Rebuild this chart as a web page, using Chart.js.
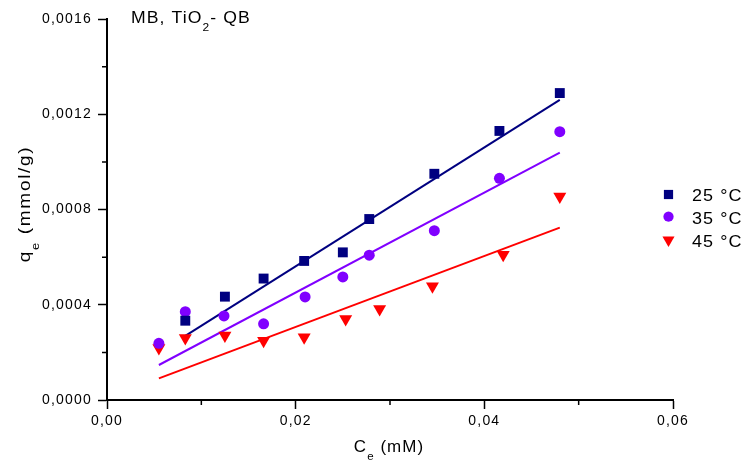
<!DOCTYPE html>
<html>
<head>
<meta charset="utf-8">
<script src="https://cdn.jsdelivr.net/npm/chart.js@4/dist/chart.umd.min.js"></script>
<style>
html, body { margin: 0; padding: 0; background: #fff; }
#wrap { width: 744px; height: 463px; }
</style>
</head>
<body>
<div id="wrap"><canvas id="myChart"></canvas></div>
<script>
// measured points, Ce (mM) vs qe (mmol/g)
const ce25 = [0.0083, 0.0125, 0.0166, 0.0209, 0.0250, 0.0278, 0.0347, 0.0416, 0.0480];
const qe25 = [0.000333, 0.000434, 0.000510, 0.000584, 0.000620, 0.000760, 0.000950, 0.001130, 0.001289];
const ce35 = [0.0055, 0.0083, 0.0124, 0.0166, 0.0210, 0.0250, 0.0278, 0.0347, 0.0416, 0.0480];
const qe35 = [0.000238, 0.000371, 0.000353, 0.000320, 0.000433, 0.000517, 0.000608, 0.000711, 0.000931, 0.001127];
const ce45 = [0.0055, 0.0083, 0.0125, 0.0166, 0.0209, 0.0253, 0.0289, 0.0345, 0.0420, 0.0480];
const qe45 = [0.000218, 0.000260, 0.000271, 0.000249, 0.000263, 0.000340, 0.000382, 0.000478, 0.000610, 0.000855];

// linear fits (end points)
const fit25x = [0.0083, 0.0480], fit25y = [0.000269, 0.001260];
const fit35x = [0.0055, 0.0480], fit35y = [0.000147, 0.001039];
const fit45x = [0.0055, 0.0480], fit45y = [0.000091, 0.000724];

const seriesNames = ["25 °C", "35 °C", "45 °C"];
const xTicks = [0, 0.02, 0.04, 0.06];
const yTicks = [0, 0.0004, 0.0008, 0.0012, 0.0016];
const xMinor = [0.01, 0.03, 0.05];
const yMinor = [0.0002, 0.0006, 0.0010, 0.0014];

const colors = ["#000080", "#8000ff", "#ff0000"];
const styles = [
  { pointStyle: "rect", radius: 7, rotation: 0 },
  { pointStyle: "circle", radius: 5.5, rotation: 0 },
  { pointStyle: "triangle", radius: 7.5, rotation: 180 },
];
const FONT = "'Liberation Sans', Arial, sans-serif";

function pts(xs, ys) {
  return xs.map((x, i) => ({ x: x, y: ys[i] }));
}
function comma(v, d) {
  return v.toFixed(d).replace(".", ",");
}

const scatterSets = [[ce25, qe25], [ce35, qe35], [ce45, qe45]].map((s, i) => ({
  label: seriesNames[i],
  data: pts(s[0], s[1]),
  backgroundColor: colors[i],
  borderColor: colors[i],
  borderWidth: 0,
  pointStyle: styles[i].pointStyle,
  pointRadius: styles[i].radius,
  pointRotation: styles[i].rotation,
  showLine: false,
  order: 0,
}));
const fitSets = [[fit25x, fit25y], [fit35x, fit35y], [fit45x, fit45y]].map((s, i) => ({
  label: "fit " + seriesNames[i],
  data: pts(s[0], s[1]),
  borderColor: colors[i],
  borderWidth: 2,
  pointRadius: 0,
  showLine: true,
  order: 1,
}));

// the original export draws text a little stretched, so: size, spacing, x-stretch
function setFont(ctx, size, sub, spacing) {
  ctx.font = (sub ? size * 0.68 : size) + "px " + FONT;
  ctx.letterSpacing = spacing + "px";
}
function subWidth(ctx, parts, size, spacing) {
  let w = 0;
  parts.forEach((p) => {
    setFont(ctx, size, p.sub, spacing);
    w += ctx.measureText(p.t).width;
  });
  return w;
}
// align: 0 = left, 0.5 = centre
function subText(ctx, parts, x, y, size, spacing, sx, align) {
  const w = subWidth(ctx, parts, size, spacing) * sx;
  ctx.save();
  ctx.translate(x - w * align, y);
  ctx.scale(sx, 1);
  ctx.textBaseline = "alphabetic";
  ctx.textAlign = "left";
  let cx = 0;
  parts.forEach((p) => {
    setFont(ctx, size, p.sub, spacing);
    ctx.fillText(p.t, cx, p.sub ? size * 0.55 : 0);
    cx += ctx.measureText(p.t).width;
  });
  ctx.restore();
}

const extras = {
  id: "extras",
  beforeLayout(chart) {
    chart.ctx.letterSpacing = "1.2px";
  },
  beforeDraw(chart) {
    chart.ctx.letterSpacing = "1.2px";
  },
  afterDraw(chart) {
    const ctx = chart.ctx;
    const xs = chart.scales.x, ys = chart.scales.y;
    const area = chart.chartArea;
    ctx.save();
    // minor ticks
    ctx.strokeStyle = "#000";
    ctx.lineWidth = 1.5;
    ctx.beginPath();
    xMinor.forEach((v) => {
      const px = xs.getPixelForValue(v);
      ctx.moveTo(px, area.bottom);
      ctx.lineTo(px, area.bottom + 5);
    });
    yMinor.forEach((v) => {
      const py = ys.getPixelForValue(v);
      ctx.moveTo(area.left - 5, py);
      ctx.lineTo(area.left, py);
    });
    ctx.stroke();

    ctx.fillStyle = "#000";
    // title
    subText(ctx, [{ t: "MB, TiO" }, { t: "2", sub: true }, { t: "- QB" }], 131, 22.5, 16, 1, 1.1, 0);

    // x title
    subText(ctx, [{ t: "C" }, { t: "e", sub: true }, { t: " (mM)" }], 389, 451.5, 16, 1, 1.06, 0.5);

    // y title
    ctx.save();
    ctx.translate(30, 204);
    ctx.rotate(-Math.PI / 2);
    subText(ctx, [{ t: "q" }, { t: "e", sub: true }, { t: " (mmol/g)" }], 0, 0, 17, 1.5, 1.12, 0.5);
    ctx.restore();

    // legend
    const markY = [194.5, 216.7, 240];
    const textY = [200.7, 224, 246.7];
    seriesNames.forEach((name, i) => {
      ctx.fillStyle = colors[i];
      ctx.strokeStyle = colors[i];
      Chart.helpers.drawPoint(ctx, {
        pointStyle: styles[i].pointStyle,
        radius: styles[i].radius * 0.93,
        rotation: styles[i].rotation,
        borderWidth: 0,
      }, 668.5, markY[i]);
      ctx.fillStyle = "#000";
      subText(ctx, [{ t: name }], 692, textY[i], 17, 1, 1.06, 0);
    });
    ctx.restore();
  },
};

new Chart("myChart", {
  type: "scatter",
  data: { datasets: scatterSets.concat(fitSets) },
  options: {
    responsive: true,
    maintainAspectRatio: false,
    animation: false,
    layout: { padding: { left: 0, right: 71, top: 19, bottom: 0 } },
    plugins: {
      legend: { display: false },
      tooltip: { enabled: false },
    },
    scales: {
      x: {
        type: "linear",
        min: 0,
        max: 0.06,
        afterBuildTicks: (s) => { s.ticks = xTicks.map((v) => ({ value: v })); },
        afterFit: (s) => { s.height = 63; },
        ticks: {
          callback: (v) => comma(v, 2),
          color: "#000",
          font: { family: FONT, size: 14 },
          padding: 4,
          maxRotation: 0,
        },
        grid: { display: true, drawOnChartArea: false, drawTicks: true, tickLength: 9, tickWidth: 1.5, tickColor: "#000" },
        border: { display: true, color: "#000", width: 2 },
      },
      y: {
        type: "linear",
        min: 0,
        max: 0.0016,
        afterBuildTicks: (s) => { s.ticks = yTicks.map((v) => ({ value: v })); },
        afterFit: (s) => { s.width = 107; },
        ticks: {
          callback: (v) => comma(v, 4),
          color: "#000",
          font: { family: FONT, size: 14 },
          padding: 6,
        },
        grid: { display: true, drawOnChartArea: false, drawTicks: true, tickLength: 9, tickWidth: 1.5, tickColor: "#000" },
        border: { display: true, color: "#000", width: 2 },
      },
    },
  },
  plugins: [extras],
});
</script>
</body>
</html>
